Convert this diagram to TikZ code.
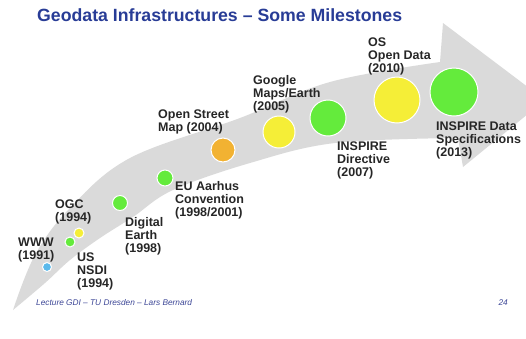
\documentclass[tikz,border=0pt]{standalone}
\usepackage{fontspec}
\setmainfont{Liberation Sans}
\usetikzlibrary{positioning}
\definecolor{titleblue}{RGB}{40,60,150}
\definecolor{bandgray}{RGB}{218,218,218}
\definecolor{dotgreen}{RGB}{100,235,60}
\definecolor{dotyellow}{RGB}{245,238,55}
\definecolor{dotorange}{RGB}{242,178,50}
\definecolor{dotblue}{RGB}{90,185,235}
\definecolor{footblue}{RGB}{60,70,150}
\begin{document}
\begin{tikzpicture}[x=1pt,y=-1pt,
  dot/.style={circle,draw=white,line width=1pt,inner sep=0pt,minimum size=#1},
  lbl/.style={font=\fontsize{12.5}{13}\selectfont\bfseries,align=left,inner sep=0pt,anchor=north west,text=black!85}]
 \useasboundingbox (0,0) rectangle (526,338);
 \fill[bandgray] plot[smooth,tension=0.6] coordinates {(13,310) (35,255) (70,208) (130,158) (240,118) (330,82) (440,62)}
   --(443,23)--(545,100)--(463,167)--(458,138)
   -- plot[smooth,tension=0.6] coordinates {(458,138) (335,143) (250,163) (173,190) (133,217) (100,238) (70,260) (45,283) (13,310)} -- cycle;
 \node[font=\fontsize{17.7}{20}\selectfont\bfseries,text=titleblue,anchor=base west,inner sep=0pt] (title) at (37,21) {Geodata Infrastructures -- Some Milestones};
 \node[dot=9pt,fill=dotblue] (www) at (47,267) {};
 \node[dot=10pt,fill=dotgreen] (nsdi) at (70,242) {};
 \node[dot=10pt,fill=dotyellow] (ogc) at (79,233) {};
 \node[dot=15pt,fill=dotgreen] (earth) at (120,203) {};
 \node[dot=16pt,fill=dotgreen] (aarhus) at (165,178) {};
 \node[dot=24pt,fill=dotorange] (osm) at (223,150) {};
 \node[dot=32pt,fill=dotyellow] (google) at (279,132) {};
 \node[dot=36pt,fill=dotgreen] (directive) at (328,118) {};
 \node[dot=46pt,fill=dotyellow] (osdata) at (397,100) {};
 \node[dot=48pt,fill=dotgreen] (specs) at (454,92) {};
 \node[lbl] (wwwl) at (18,238) {WWW\\(1991)};
 \node[lbl] (ogcl) at (55,200) {OGC\\(1994)};
 \node[lbl] (nsdil) at (77,253) {US\\NSDI\\(1994)};
 \node[lbl] (earthl) at (125,217) {Digital\\Earth\\(1998)};
 \node[lbl] (aarhusl) at (175,181) {EU Aarhus\\Convention\\(1998/2001)};
 \node[lbl] (osml) at (158,110) {Open Street\\Map (2004)};
 \node[lbl] (googlel) at (253,75) {Google\\Maps/Earth\\(2005)};
 \node[lbl] (directivel) at (337,142) {INSPIRE\\Directive\\(2007)};
 \node[lbl] (osdatal) at (368,38) {OS\\Open Data\\(2010)};
 \node[lbl] (specsl) at (436,122) {INSPIRE Data\\Specifications\\(2013)};
 \node[font=\fontsize{8.3}{10}\selectfont\itshape,text=footblue,anchor=base west,inner sep=0pt] (foot) at (36,305) {Lecture GDI -- TU Dresden -- Lars Bernard};
 \node[font=\fontsize{8.3}{10}\selectfont\itshape,text=footblue,anchor=base east,inner sep=0pt] (page) at (508,305) {24};
\end{tikzpicture}
\end{document}
